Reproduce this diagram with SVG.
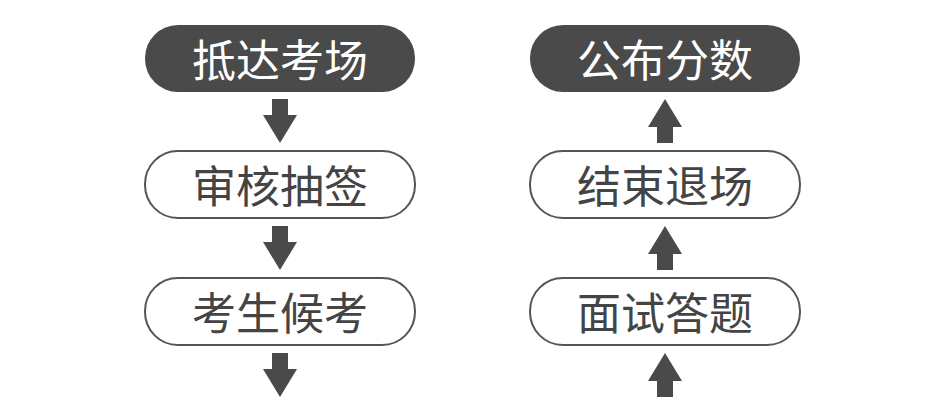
<svg xmlns="http://www.w3.org/2000/svg" width="946" height="400" viewBox="0 0 946 400">
<defs><style>
.d{fill:#4a4a4a}
.w{fill:#fff;stroke:#555;stroke-width:2}
text{font-family:"Noto Sans CJK SC",sans-serif;font-size:44px;text-anchor:middle;dominant-baseline:central}
.tl{fill:#fff}.tk{fill:#444}
.a{fill:#4a4a4a}
</style></defs>
<rect width="946" height="400" fill="#fff"/>
<g id="n1"><rect class="d" x="145" y="25" width="270" height="67" rx="33"/><text class="tl" x="280" y="58">抵达考场</text></g>
<g id="n2"><rect class="w" x="145" y="151" width="270" height="67" rx="33"/><text class="tk" x="280" y="184">审核抽签</text></g>
<g id="n3"><rect class="w" x="145" y="278" width="270" height="67" rx="33"/><text class="tk" x="280" y="311">考生候考</text></g>
<g id="n4"><rect class="d" x="530" y="25" width="270" height="67" rx="33"/><text class="tl" x="665" y="58">公布分数</text></g>
<g id="n5"><rect class="w" x="530" y="151" width="270" height="67" rx="33"/><text class="tk" x="665" y="184">结束退场</text></g>
<g id="n6"><rect class="w" x="530" y="278" width="270" height="67" rx="33"/><text class="tk" x="665" y="311">面试答题</text></g>
<g id="connectors">
<path class="a" d="M272 99H288V115H297L280 143L263 115H272Z"/>
<path class="a" d="M272 226H288V242H297L280 270L263 242H272Z"/>
<path class="a" d="M272 353H288V369H297L280 397L263 369H272Z"/>
<path class="a" d="M657 143H673V127H682L665 99L648 127H657Z"/>
<path class="a" d="M657 270H673V254H682L665 226L648 254H657Z"/>
<path class="a" d="M657 397H673V381H682L665 353L648 381H657Z"/>
</g>
</svg>
